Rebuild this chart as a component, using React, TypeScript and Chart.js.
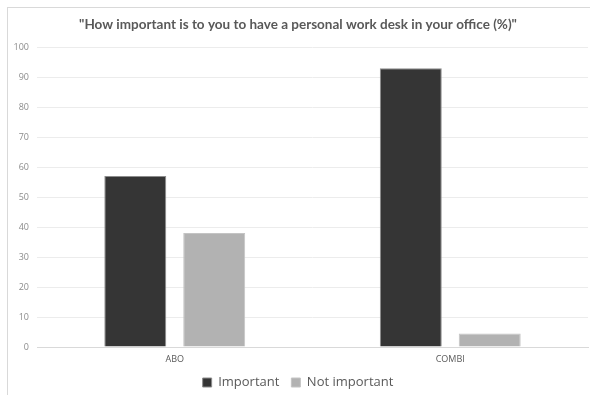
import React, { useEffect, useRef } from "react";
import { Chart, registerables } from "chart.js";

Chart.register(...registerables);

const categories = ["ABO", "COMBI"];
const importantValues = [57, 93];
const notImportantValues = [38, 4.5];
const seriesNames = ["Important", "Not important"];
const yTicks = [0, 10, 20, 30, 40, 50, 60, 70, 80, 90, 100];
const titleText = '"How important is to you to have a personal work desk in your office (%)"';

export default function App() {
  const ref = useRef<HTMLCanvasElement>(null);
  useEffect(() => {
    const chart = new Chart(ref.current!, {
      type: "bar",
      data: {
        labels: categories,
        datasets: [
          {
            label: seriesNames[0],
            data: importantValues,
            backgroundColor: "#353535",
            borderColor: "#8c8c8c",
            borderWidth: 1,
            categoryPercentage: 0.573,
            barPercentage: 0.785,
          },
          {
            label: seriesNames[1],
            data: notImportantValues,
            backgroundColor: "#b2b2b2",
            borderColor: "#c4c4c4",
            borderWidth: 1,
            categoryPercentage: 0.573,
            barPercentage: 0.785,
          },
        ],
      },
      options: {
        animation: false,
        responsive: false,
        maintainAspectRatio: false,
        layout: { padding: { left: 8, right: 2, top: 0, bottom: -4 } },
        plugins: {
          title: {
            display: true,
            text: titleText,
            color: "#595959",
            font: { family: "Lato", size: 13.5, weight: "bold" },
            padding: { top: 17, bottom: 14 },
          },
          legend: {
            position: "bottom",
            labels: {
              color: "#595959",
              font: { family: "'Open Sans'", size: 13 },
              boxWidth: 9,
              boxHeight: 9,
              padding: 12,
              useBorderRadius: false,
            },
          },
          tooltip: { enabled: false },
        },
        scales: {
          x: {
            grid: { display: false, drawTicks: false },
            border: { display: true, color: "#d9d9d9" },
            ticks: {
              color: "#595959",
              font: { family: "'Open Sans'", size: 9 },
              padding: 7,
            },
            afterFit: (s: any) => {
              s.height = 17;
            },
          },
          y: {
            min: 0,
            max: 100,
            afterBuildTicks: (s: any) => {
              s.ticks = yTicks.map((v) => ({ value: v }));
            },
            grid: { color: "#ececec", drawTicks: false },
            border: { display: false },
            ticks: {
              color: "#8c8c8c",
              font: { family: "'Open Sans'", size: 9 },
              padding: 8,
            },
            afterFit: (s: any) => {
              s.width = 29;
            },
          },
        },
      },
    });
    return () => chart.destroy();
  }, []);
  return (
    <div style={{ position: "fixed", left: 0, top: 0, width: 590, height: 395, background: "#fff" }}>
      <div
        style={{
          position: "absolute",
          left: 7,
          top: 7,
          width: 600,
          height: 400,
          borderLeft: "1px solid #d9d9d9",
          borderTop: "1px solid #d9d9d9",
        }}
      />
      <canvas ref={ref} width={590} height={395} style={{ position: "absolute", left: 0, top: 0 }} />
    </div>
  );
}
